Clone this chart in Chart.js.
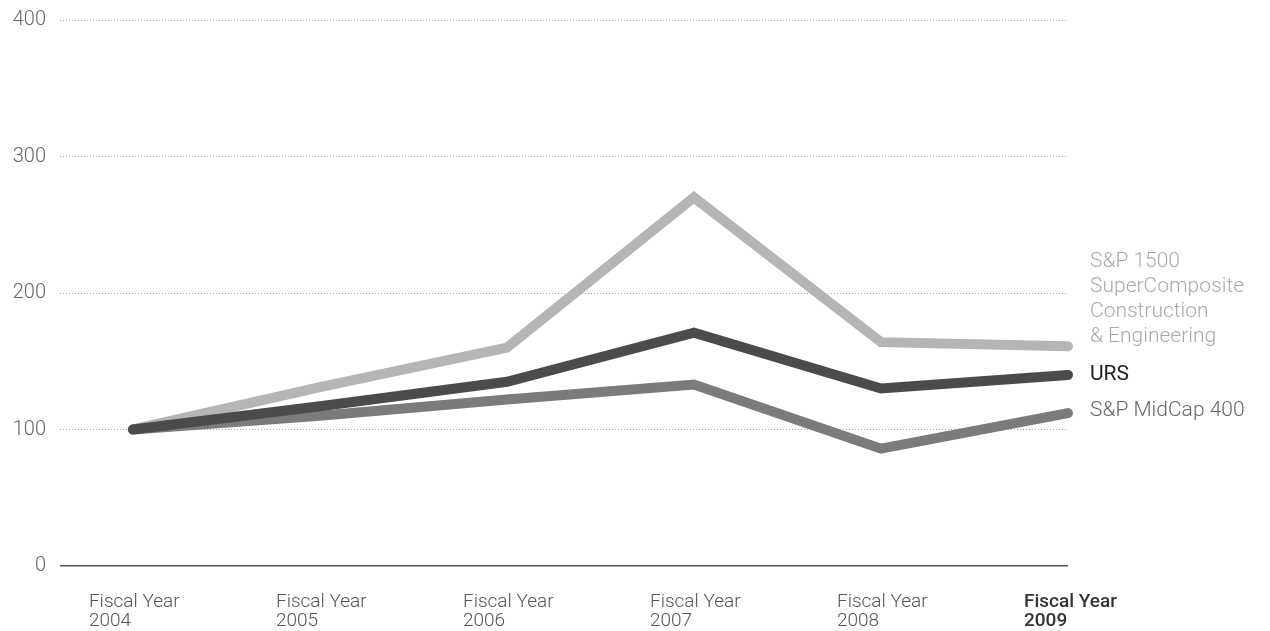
<!DOCTYPE html>
<html lang="en">
<head>
  <meta charset="UTF-8">
  <title>Total return comparison</title>
  <script src="https://cdn.jsdelivr.net/npm/chart.js"></script>
  <style>
    html, body { margin: 0; padding: 0; background: #fff; }
    #wrap { width: 1270px; height: 631px; }
  </style>
</head>
<body>
  <div id="wrap"><canvas id="returnChart"></canvas></div>

  <script>
    // data
    const years = [2004, 2005, 2006, 2007, 2008, 2009];
    const yearLabels = [
      ['Fiscal Year', '2004'], ['Fiscal Year', '2005'], ['Fiscal Year', '2006'],
      ['Fiscal Year', '2007'], ['Fiscal Year', '2008'], ['Fiscal Year', '2009']
    ];
    const spConstruction = [100, 131, 160, 270, 164, 161];
    const urs = [100, 117, 135, 171, 130, 140];
    const midCap = [100, 110, 122, 133, 86, 112];
    const yTicks = [0, 100, 200, 300, 400];

    const seriesNames = [
      ['URS'],
      ['S&P MidCap 400'],
      ['S&P 1500', 'SuperComposite', 'Construction', '& Engineering']
    ];

    const FONT = 'Roboto, "DejaVu Sans", sans-serif';

    // draws the series names next to the last point of each line
    const endLabels = {
      id: 'endLabels',
      afterDatasetsDraw(chart) {
        const ctx = chart.ctx;
        ctx.save();
        ctx.textBaseline = 'middle';
        ctx.textAlign = 'left';
        chart.data.datasets.forEach((ds, i) => {
          const meta = chart.getDatasetMeta(i);
          const pt = meta.data[meta.data.length - 1];
          const lines = seriesNames[i];
          ctx.fillStyle = ds.labelColor;
          ctx.font = (ds.labelWeight || '300') + ' 21px ' + FONT;
          const x = pt.x + 22;
          const last = pt.y + ds.labelShift;
          lines.forEach((t, k) => {
            ctx.fillText(t, x, last - (lines.length - 1 - k) * 25);
          });
        });
        ctx.restore();
      }
    };

    new Chart(document.getElementById('returnChart'), {
      type: 'line',
      data: {
        datasets: [
          {
            label: 'URS',
            data: years.map((y, i) => ({ x: y, y: urs[i] })),
            borderColor: '#4b4b4b',
            labelColor: '#222',
            labelWeight: '400',
            labelShift: 0,
            order: 1
          },
          {
            label: 'S&P MidCap 400',
            data: years.map((y, i) => ({ x: y, y: midCap[i] })),
            borderColor: '#7b7b7b',
            labelColor: '#666',
            labelShift: -2,
            order: 2
          },
          {
            label: 'S&P 1500 SuperComposite Construction & Engineering',
            data: years.map((y, i) => ({ x: y, y: spConstruction[i] })),
            borderColor: '#b5b5b5',
            labelColor: '#aaa',
            labelShift: -9,
            order: 3
          }
        ]
      },
      options: {
        responsive: true,
        maintainAspectRatio: false,
        animation: false,
        clip: false,
        layout: { padding: { top: 8, right: 202, bottom: 0, left: 0 } },
        elements: {
          line: { borderWidth: 10, tension: 0, borderCapStyle: 'round', borderJoinStyle: 'miter' },
          point: { radius: 0, hoverRadius: 0 }
        },
        plugins: {
          legend: { display: false },
          tooltip: { enabled: false }
        },
        scales: {
          x: {
            type: 'linear',
            min: 2003.61,
            max: 2009,
            afterBuildTicks: s => { s.ticks = years.map(v => ({ value: v })); },
            afterFit: s => { s.height = 65; },
            border: { display: false },
            grid: { display: false },
            ticks: {
              autoSkip: false,
              maxRotation: 0,
              padding: 19,
              align: 'start',
              labelOffset: -44,
              callback: (v) => yearLabels[years.indexOf(v)],
              color: c => c.index === 5 ? '#333' : '#555',
              font: c => ({ family: FONT, size: 19, weight: c.index === 5 ? '500' : '300', lineHeight: 1.0 })
            }
          },
          y: {
            min: 0,
            max: 400,
            afterBuildTicks: s => { s.ticks = yTicks.map(v => ({ value: v })); },
            afterFit: s => { s.width = 60; s.paddingTop = 20; },
            border: {
              display: false,
              dash: c => c.tick && c.tick.value === 0 ? [] : [1, 2]
            },
            grid: {
              drawTicks: false,
              color: c => c.tick.value === 0 ? '#555' : '#aaa',
              lineWidth: c => c.tick.value === 0 ? 1.5 : 1
            },
            ticks: {
              padding: 14,
              color: '#666',
              font: { family: FONT, size: 20, weight: '300', lineHeight: 1.0 }
            }
          }
        }
      },
      plugins: [endLabels]
    });
  </script>
</body>
</html>
